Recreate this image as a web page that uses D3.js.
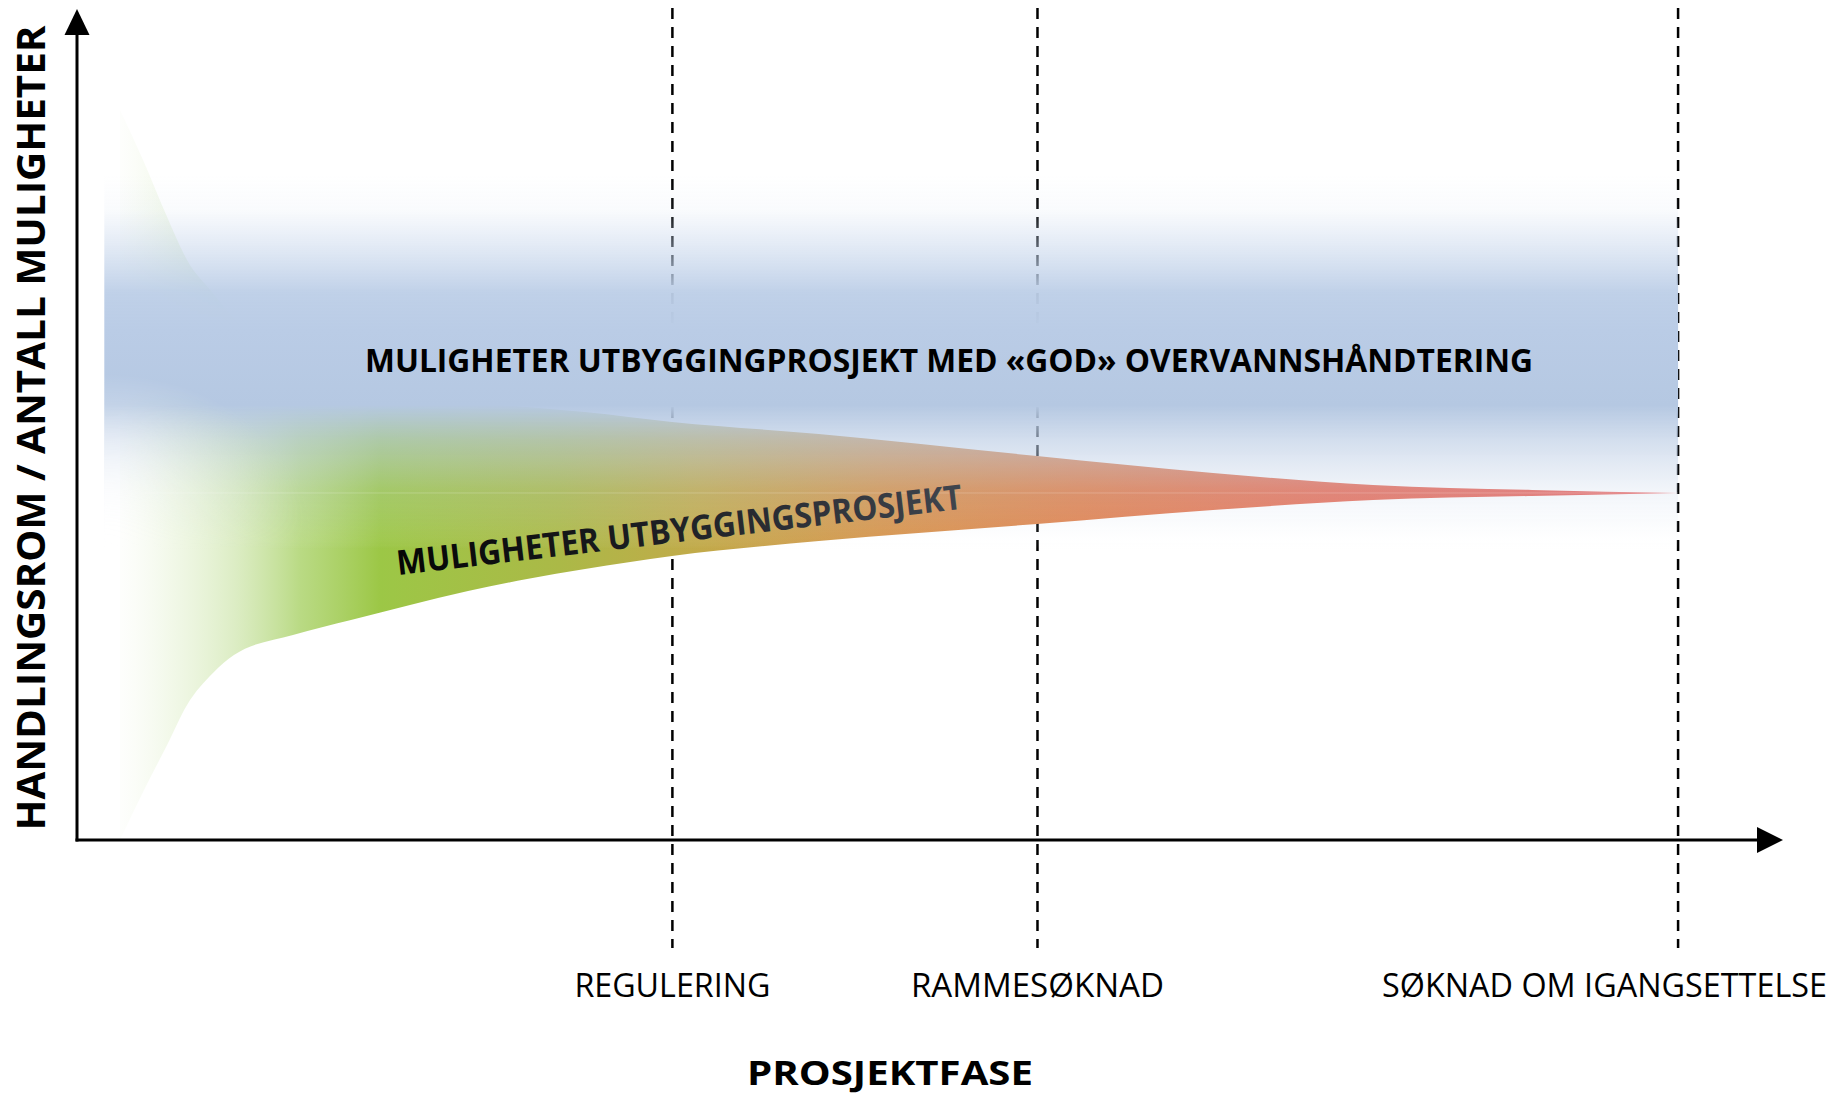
<!DOCTYPE html>
<html>
<head>
<meta charset="utf-8">
<script src="https://cdn.jsdelivr.net/npm/d3@7"></script>
<style>
  body { margin: 0; background: #fff; }
  text { font-family: "Open Sans", "Noto Sans", sans-serif; }
</style>
</head>
<body>
<div id="chart"></div>
<script>
// chart values (x = project phase 0-100, y = room for action 0-100)
var phaseX    = [2.52, 3.87, 5.28, 6.45, 7.97, 9.2, 12.66, 16.06, 19.52, 22.92, 26.38, 29.78, 34.88, 43.49, 56.27, 66.59, 75.97, 85.29, 93.85];
var upperEdge = [87.85, 81.83, 74.97, 69.8, 65.82, 62.82, 58.36, 55.6, 53.79, 52.71, 52.11, 51.5, 50.3, 48.86, 46.21, 44.16, 42.72, 42.12, 41.76];
var lowerEdge = [0, 5.78, 11.43, 16.25, 20.1, 22.26, 24.67, 26.47, 28.28, 29.96, 31.41, 32.61, 34.18, 35.98, 38.03, 39.71, 40.91, 41.4, 41.76];

// the "good stormwater" band
var bandRange = [80, 35];
var bandStart = 1.6;

// milestones along the x axis
var milestones = ["REGULERING", "RAMMESØKNAD", "SØKNAD OM IGANGSETTELSE"];
var milestoneX = [34.9, 56.3, 93.85];

var bandLabel = "MULIGHETER UTBYGGINGPROSJEKT MED «GOD» OVERVANNSHÅNDTERING";
var wedgeLabel = "MULIGHETER UTBYGGINGSPROSJEKT";
var yTitle = "HANDLINGSROM / ANTALL MULIGHETER";
var xTitle = "PROSJEKTFASE";

// svg size
var svgWidth = 1835;
var svgHeight = 1095;

var svg = d3.select("#chart")
  .append("svg")
  .attr("width", svgWidth)
  .attr("height", svgHeight);

// scales
var x = d3.scaleLinear().domain([0, 100]).range([77, 1783]);
var y = d3.scaleLinear().domain([0, 100]).range([840, 9]);

var defs = svg.append("defs");

// wedge colour: pale green -> green -> olive -> orange -> red
var x0 = x(phaseX[0]), x1 = x(phaseX[phaseX.length - 1]);
var wedgeGrad = defs.append("linearGradient")
  .attr("id", "wedgeGrad")
  .attr("gradientUnits", "userSpaceOnUse")
  .attr("x1", x0).attr("x2", x1).attr("y1", 0).attr("y2", 0);
[[120, "#e4f0d2", 0.06], [170, "#d4e9b6", 0.3], [235, "#c2df98", 0.57], [300, "#aed470", 0.86],
 [380, "#9cc746", 1], [560, "#abb947", 1], [700, "#c2aa4a", 1], [880, "#d6944b", 1],
 [1080, "#e1824e", 1], [1330, "#e8725c", 1], [1676, "#ea6868", 1]].forEach(function(s) {
  wedgeGrad.append("stop")
    .attr("offset", (s[0] - x0) / (x1 - x0))
    .attr("stop-color", s[1])
    .attr("stop-opacity", s[2]);
});

// band colour: fades in from the top, solid, then fades out at the bottom
var bTop = y(bandRange[0]), bBot = y(bandRange[1]);
var bandGrad = defs.append("linearGradient")
  .attr("id", "bandGrad")
  .attr("gradientUnits", "userSpaceOnUse")
  .attr("x1", 0).attr("x2", 0).attr("y1", bTop).attr("y2", bBot);
[[175, "#c6d6ec", 0], [210, "#c4d4eb", 0.1], [255, "#c0d1e9", 0.55], [293, "#bccee7", 0.95],
 [330, "#bacce6", 1], [405, "#b5c8e2", 1], [440, "#b8cae3", 0.62], [490, "#c2d1e7", 0.22],
 [520, "#d6e1f0", 0.13], [545, "#f2f5fa", 0.04], [550, "#ffffff", 0]].forEach(function(s) {
  bandGrad.append("stop")
    .attr("offset", (s[0] - bTop) / (bBot - bTop))
    .attr("stop-color", s[1])
    .attr("stop-opacity", s[2]);
});

// text on the wedge greys out to the right
var textGrad = defs.append("linearGradient").attr("id", "textGrad");
textGrad.append("stop").attr("offset", 0).attr("stop-color", "#050505");
textGrad.append("stop").attr("offset", 0.45).attr("stop-color", "#1c1e22");
textGrad.append("stop").attr("offset", 1).attr("stop-color", "#40454e");

// soft lower-left corner of the band (mask)
var cornerGrad = defs.append("radialGradient")
  .attr("id", "cornerGrad")
  .attr("cx", 0).attr("cy", 1).attr("r", 1);
cornerGrad.append("stop").attr("offset", 0).attr("stop-color", "#000").attr("stop-opacity", 1);
cornerGrad.append("stop").attr("offset", 0.5).attr("stop-color", "#000").attr("stop-opacity", 0.55);
cornerGrad.append("stop").attr("offset", 1).attr("stop-color", "#000").attr("stop-opacity", 0);

var bandMask = defs.append("mask")
  .attr("id", "bandMask")
  .attr("maskUnits", "userSpaceOnUse")
  .attr("x", 0).attr("y", 0)
  .attr("width", svgWidth).attr("height", svgHeight);
bandMask.append("rect")
  .attr("width", svgWidth).attr("height", svgHeight)
  .attr("fill", "#fff");
bandMask.append("rect")
  .attr("x", x(bandStart))
  .attr("y", bBot - 175)
  .attr("width", 210)
  .attr("height", 175)
  .attr("fill", "url(#cornerGrad)");

// dashed milestone lines (drawn first, the band covers them)
svg.selectAll("line.milestone")
  .data(milestoneX)
  .enter()
  .append("line")
  .attr("class", "milestone")
  .attr("x1", d => x(d)).attr("x2", d => x(d))
  .attr("y1", 8).attr("y2", 948)
  .attr("stroke", "#000")
  .attr("stroke-width", 2.5)
  .attr("stroke-dasharray", "11,8");

// the shrinking wedge of possibilities
var wedgeData = phaseX.map(function(p, i) {
  return { p: p, hi: upperEdge[i], lo: lowerEdge[i] };
});
var area = d3.area()
  .x(d => x(d.p))
  .y0(d => y(d.lo))
  .y1(d => y(d.hi))
  .curve(d3.curveMonotoneX);

svg.append("path")
  .datum(wedgeData)
  .attr("d", area)
  .attr("fill", "url(#wedgeGrad)");

// band
var bandEnd = milestoneX[milestoneX.length - 1];
svg.append("rect")
  .attr("x", x(bandStart))
  .attr("y", bTop)
  .attr("width", x(bandEnd) - x(bandStart))
  .attr("height", bBot - bTop)
  .attr("fill", "url(#bandGrad)")
  .attr("mask", "url(#bandMask)");

// faint seam in the band at the wedge tip
svg.append("line")
  .attr("x1", x(bandStart) + 40).attr("x2", x(bandEnd))
  .attr("y1", y(upperEdge[upperEdge.length - 1])).attr("y2", y(upperEdge[upperEdge.length - 1]))
  .attr("stroke", "#fff")
  .attr("stroke-opacity", 0.2)
  .attr("stroke-width", 1);

// slanted wedge label
svg.append("text")
  .attr("transform", "translate(398,575) rotate(-6.7)")
  .attr("font-size", 34)
  .attr("font-weight", 700)
  .attr("textLength", 569)
  .attr("lengthAdjust", "spacingAndGlyphs")
  .attr("fill", "url(#textGrad)")
  .text(wedgeLabel);

// band label
svg.append("text")
  .attr("x", 365)
  .attr("y", 372)
  .attr("font-size", 32)
  .attr("font-weight", 700)
  .attr("textLength", 1168)
  .attr("lengthAdjust", "spacingAndGlyphs")
  .attr("fill", "#000")
  .text(bandLabel);

// axes with arrow heads
svg.append("line")
  .attr("x1", x(0)).attr("x2", x(0))
  .attr("y1", y(0) + 1.5).attr("y2", 32)
  .attr("stroke", "#000").attr("stroke-width", 3);
svg.append("line")
  .attr("x1", x(0) - 1.5).attr("x2", 1759)
  .attr("y1", y(0)).attr("y2", y(0))
  .attr("stroke", "#000").attr("stroke-width", 3);

svg.append("path")
  .attr("d", `M${x(0)},${y(100)} L${x(0) + 12.5},${y(100) + 26} L${x(0) - 12.5},${y(100) + 26} Z`)
  .attr("fill", "#000");
svg.append("path")
  .attr("d", `M${x(100)},${y(0)} L${x(100) - 26},${y(0) - 13} L${x(100) - 26},${y(0) + 13} Z`)
  .attr("fill", "#000");

// milestone labels, kept inside the page on the right
var labelWidths = [196, 253, 445];
svg.selectAll("text.milestone")
  .data(milestones)
  .enter()
  .append("text")
  .attr("class", "milestone")
  .attr("x", function(d, i) {
    var cx = x(milestoneX[i]);
    return Math.min(cx, svgWidth - 8 - labelWidths[i] / 2);
  })
  .attr("y", 997)
  .attr("text-anchor", "middle")
  .attr("font-size", 32)
  .attr("textLength", (d, i) => labelWidths[i])
  .attr("lengthAdjust", "spacingAndGlyphs")
  .attr("fill", "#000")
  .text(d => d);

// axis titles
svg.append("text")
  .attr("x", 890)
  .attr("y", 1085)
  .attr("text-anchor", "middle")
  .attr("font-size", 34)
  .attr("font-weight", 700)
  .attr("textLength", 286)
  .attr("lengthAdjust", "spacingAndGlyphs")
  .text(xTitle);

svg.append("text")
  .attr("transform", "translate(45,428) rotate(-90)")
  .attr("text-anchor", "middle")
  .attr("font-size", 40)
  .attr("font-weight", 700)
  .attr("textLength", 805)
  .attr("lengthAdjust", "spacingAndGlyphs")
  .text(yTitle);
</script>
</body>
</html>
